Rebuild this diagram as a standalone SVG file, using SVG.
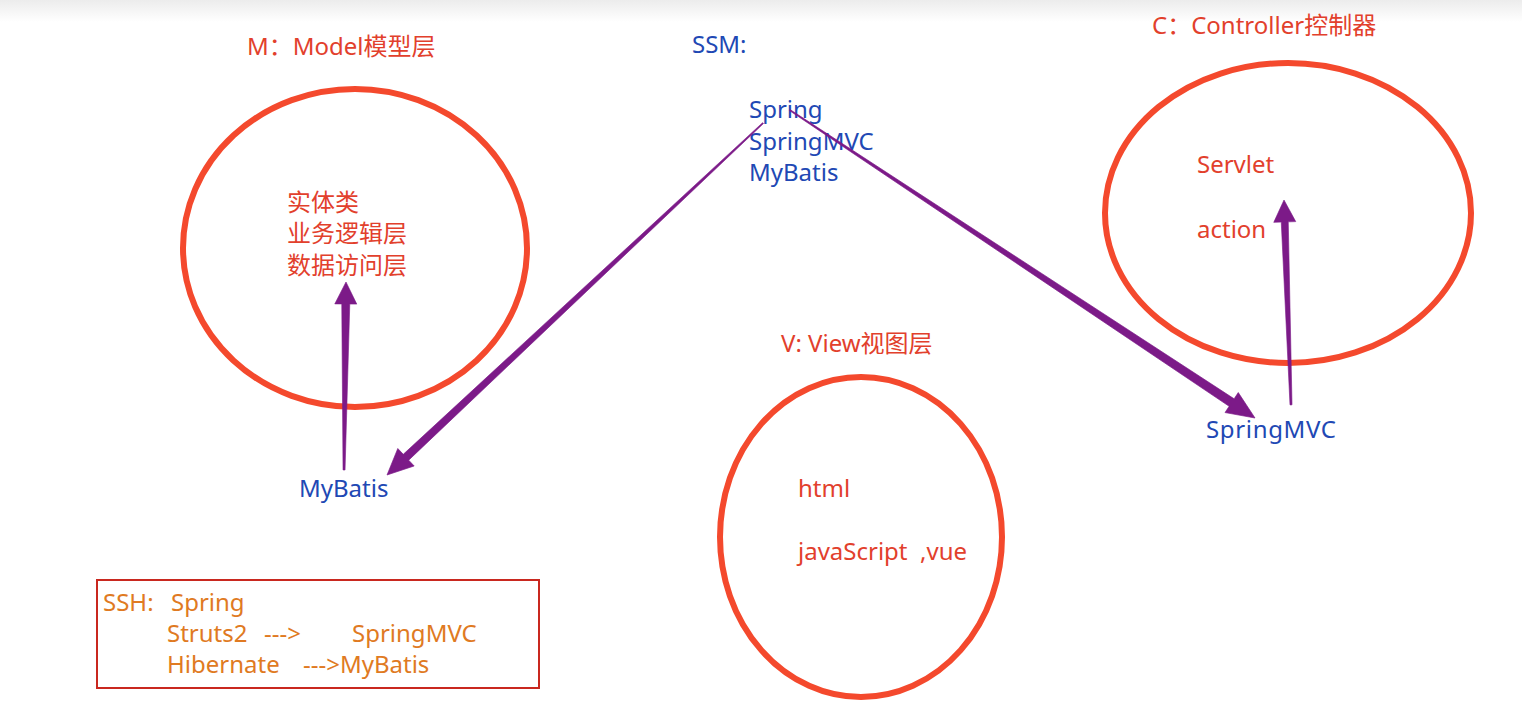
<svg xmlns="http://www.w3.org/2000/svg" width="1522" height="723" viewBox="0 0 1522 723">
<defs>
<linearGradient id="topbar" x1="0" y1="0" x2="0" y2="1">
<stop offset="0" stop-color="#ececec"/>
<stop offset="1" stop-color="#ffffff"/>
</linearGradient>
</defs>
<style>
text{font-family:"Noto Sans","Noto Sans CJK SC",sans-serif;font-size:24px}
.red{fill:#e2402c}
.blue{fill:#2148b4}
.orange{fill:#e07a22}
.ring{fill:none;stroke:#f4492d;stroke-width:6}
.arrow{fill:#7c1a88;stroke:#7c1a88;stroke-width:0.6;stroke-linejoin:round}
</style>
<rect width="1522" height="723" fill="#ffffff"/>
<rect width="1522" height="22" fill="url(#topbar)"/>

<g id="model">
<text class="red" x="247" y="55">M：Model模型层</text>
<ellipse class="ring" cx="355" cy="248" rx="172" ry="159"/>
<text class="red" x="287" y="211">实体类</text>
<text class="red" x="287" y="242">业务逻辑层</text>
<text class="red" x="287" y="274">数据访问层</text>
</g>

<g id="ssm">
<text class="blue" x="692" y="53">SSM:</text>
<text class="blue" x="749" y="118">Spring</text>
<text class="blue" x="749" y="150">SpringMVC</text>
<text class="blue" x="749" y="181">MyBatis</text>
</g>

<g id="controller">
<text class="red" x="1152" y="34">C：Controller控制器</text>
<ellipse class="ring" cx="1288" cy="213" rx="183" ry="150"/>
<text class="red" x="1197" y="173">Servlet</text>
<text class="red" x="1197" y="238">action</text>
</g>

<g id="view">
<text class="red" x="781" y="352">V: View视图层</text>
<ellipse class="ring" cx="861" cy="537" rx="141" ry="160"/>
<text class="red" x="798" y="497">html</text>
<text class="red" x="798" y="560" xml:space="preserve">javaScript  ,vue</text>
</g>

<g id="mybatis">
<text class="blue" x="299" y="497">MyBatis</text>
</g>

<g id="springmvc">
<text class="blue" x="1206" y="438" textLength="130">SpringMVC</text>
</g>

<g id="ssh">
<rect x="97" y="580" width="442" height="108" fill="none" stroke="#c9281f" stroke-width="2"/>
<text class="orange" x="103" y="611">SSH:<tspan x="171">Spring</tspan></text>
<text class="orange" x="167" y="642">Struts2<tspan x="264">---&gt;</tspan><tspan x="352">SpringMVC</tspan></text>
<text class="orange" x="167" y="673">Hibernate<tspan x="303">---&gt;MyBatis</tspan></text>
</g>

<g id="connectors">
<polygon class="arrow" transform="translate(387,475) rotate(136.9)" points="-515,-0.6 -26,-4 -26,-12 0,0 -26,12 -26,4 -515,0.6"/>
<polygon class="arrow" transform="translate(1255,418) rotate(33.5)" points="-558,-0.6 -28,-4.5 -28,-12 0,0 -28,12 -28,4.5 -558,0.6"/>
<polygon class="arrow" transform="translate(346,282) rotate(-89.4)" points="-188,-1 -22,-4 -22,-11 0,0 -22,11 -22,4 -188,1"/>
<polygon class="arrow" transform="translate(1284,200) rotate(-91.96)" points="-205,-1 -22,-3.5 -22,-11 0,0 -22,11 -22,3.5 -205,1"/>
</g>
</svg>
